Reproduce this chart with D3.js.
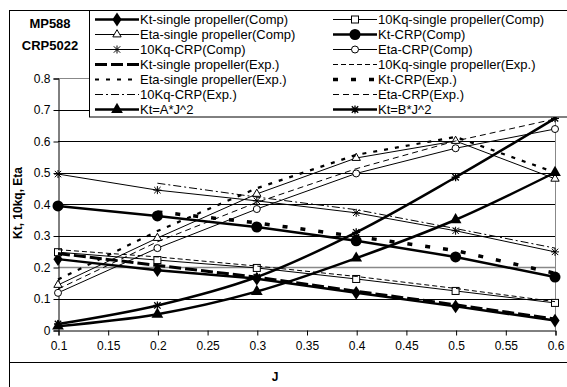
<!DOCTYPE html>
<html>
<head>
<meta charset="utf-8">
<script src="https://cdn.jsdelivr.net/npm/d3@7"></script>
<style>
  body { margin: 0; background: #fff; }
  svg { font-family: "Liberation Sans", Arial, sans-serif; }
</style>
</head>
<body>
<svg class="Chart"></svg>
<script>
/* values */
const J = [0.1, 0.2, 0.3, 0.4, 0.5, 0.6];
const J_crpExp = [0.2, 0.3, 0.4, 0.5, 0.6];

const ktSingleComp = [0.225, 0.19, 0.163, 0.118, 0.075, 0.03];
const kqSingleComp = [0.247, 0.222, 0.197, 0.162, 0.124, 0.086];
const etaSingleComp = [0.143, 0.292, 0.432, 0.546, 0.6, 0.48];
const ktCrpComp = [0.394, 0.362, 0.327, 0.283, 0.232, 0.168];
const kqCrpComp = [0.495, 0.444, 0.41, 0.372, 0.315, 0.248];
const etaCrpComp = [0.118, 0.26, 0.384, 0.497, 0.577, 0.638];
const ktSingleExp = [0.243, 0.205, 0.168, 0.123, 0.08, 0.035];
const kqSingleExp = [0.255, 0.232, 0.203, 0.17, 0.132, 0.09];
const etaSingleExp = [0.16, 0.314, 0.45, 0.556, 0.613, 0.5];
const ktCrpExp = [0.375, 0.34, 0.297, 0.252, 0.18];
const kqCrpExp = [0.466, 0.422, 0.382, 0.322, 0.26];
const etaCrpExp = [0.13, 0.28, 0.405, 0.512, 0.6, 0.67];
const ktA = [0.012, 0.05, 0.122, 0.228, 0.35, 0.5];
const ktB = [0.019, 0.078, 0.168, 0.31, 0.485, 0.672];

const xTicks = [0.1, 0.15, 0.2, 0.25, 0.3, 0.35, 0.4, 0.45, 0.5, 0.55, 0.6];
const yTicks = [0, 0.1, 0.2, 0.3, 0.4, 0.5, 0.6, 0.7, 0.8];

const series = [
  { name: "Kt-single propeller(Comp)", x: J, y: ktSingleComp, w: 2.5, marker: "diamond" },
  { name: "10Kq-single propeller(Comp)", x: J, y: kqSingleComp, w: 1, marker: "square" },
  { name: "Eta-single propeller(Comp)", x: J, y: etaSingleComp, w: 1, marker: "triangleOpen" },
  { name: "Kt-CRP(Comp)", x: J, y: ktCrpComp, w: 2.5, marker: "circleBig" },
  { name: "10Kq-CRP(Comp)", x: J, y: kqCrpComp, w: 1, marker: "star" },
  { name: "Eta-CRP(Comp)", x: J, y: etaCrpComp, w: 1, marker: "circleOpen" },
  { name: "Kt-single propeller(Exp.)", x: J, y: ktSingleExp, w: 3, dash: "12,4" },
  { name: "10Kq-single propeller(Exp.)", x: J, y: kqSingleExp, w: 1, dash: "5,3" },
  { name: "Eta-single propeller(Exp.)", x: J, y: etaSingleExp, w: 2.2, dash: "4,7" },
  { name: "Kt-CRP(Exp.)", x: J_crpExp, y: ktCrpExp, w: 3.5, dash: "5,13" },
  { name: "10Kq-CRP(Exp.)", x: J_crpExp, y: kqCrpExp, w: 1, dash: "8,3,2,3" },
  { name: "Eta-CRP(Exp.)", x: J, y: etaCrpExp, w: 1, dash: "6,4" },
  { name: "Kt=A*J^2", x: J, y: ktA, w: 2.5, marker: "triangle", smooth: true },
  { name: "Kt=B*J^2", x: J, y: ktB, w: 2.5, marker: "starBold", smooth: true }
];

const width = 567, height = 387;
const svg = d3.select(".Chart").attr("width", width).attr("height", height);

const x = d3.scaleLinear().domain([0.1, 0.6]).range([58, 555]);
const y = d3.scaleLinear().domain([0, 0.8]).range([330, 78]);

// chart frame
svg.append("line").attr("x1", 9).attr("x2", width).attr("y1", 10.5).attr("y2", 10.5).attr("stroke", "#000");
svg.append("line").attr("x1", 9.5).attr("x2", 9.5).attr("y1", 10).attr("y2", height).attr("stroke", "#000");
svg.append("line").attr("x1", 9).attr("x2", width).attr("y1", 362.5).attr("y2", 362.5).attr("stroke", "#000").attr("stroke-width", 1.2);

// gridlines
svg.append("g").selectAll("line")
  .data(yTicks.filter(d => d > 0))
  .enter().append("line")
    .attr("x1", x(0.1)).attr("x2", x(0.6))
    .attr("y1", d => Math.round(y(d)) + 0.5).attr("y2", d => Math.round(y(d)) + 0.5)
    .attr("stroke", d => (d === 0.8 || d === 0.2) ? "#888" : "#000")
    .attr("stroke-width", d => d === 0.2 ? 1.4 : 1);
svg.append("line").attr("x1", x(0.6) + 0.5).attr("x2", x(0.6) + 0.5)
  .attr("y1", y(0.8)).attr("y2", y(0)).attr("stroke", "#888");

// axes
const yAxis = svg.append("g").attr("transform", `translate(${x(0.1) + 0.5},0.5)`)
  .call(d3.axisLeft(y).tickValues(yTicks).tickSize(5).tickPadding(3).tickFormat(d3.format("")));
const xAxis = svg.append("g").attr("transform", `translate(0.5,${y(0) + 0.5})`)
  .call(d3.axisBottom(x).tickValues(xTicks).tickSize(5).tickPadding(6).tickFormat(d3.format("")));
[xAxis, yAxis].forEach(a => {
  a.selectAll("text").attr("font-size", 12).attr("fill", "#000")
    .attr("font-family", "'Liberation Sans', Arial, sans-serif");
  a.selectAll("line, path").attr("stroke", "#000");
});

// markers
function drawMarker(g, type, cx, cy) {
  const sym = (t, s) => d3.symbol().type(t).size(s)();
  switch (type) {
    case "diamond":
      g.append("path").attr("d", sym(d3.symbolDiamond, 55)).attr("transform", `translate(${cx},${cy}) scale(1.15,1)`).attr("fill", "#000");
      break;
    case "square":
      g.append("rect").attr("x", cx - 3.5).attr("y", cy - 3.5).attr("width", 7).attr("height", 7)
        .attr("fill", "#fff").attr("stroke", "#000").attr("stroke-width", 1);
      break;
    case "triangleOpen":
      g.append("path").attr("d", sym(d3.symbolTriangle, 30)).attr("transform", `translate(${cx},${cy})`)
        .attr("fill", "#fff").attr("stroke", "#000").attr("stroke-width", 1);
      break;
    case "triangle":
      g.append("path").attr("d", sym(d3.symbolTriangle, 60)).attr("transform", `translate(${cx},${cy})`).attr("fill", "#000");
      break;
    case "circleBig":
      g.append("circle").attr("cx", cx).attr("cy", cy).attr("r", 5.5).attr("fill", "#000");
      break;
    case "circleOpen":
      g.append("circle").attr("cx", cx).attr("cy", cy).attr("r", 3.5)
        .attr("fill", "#fff").attr("stroke", "#000").attr("stroke-width", 1);
      break;
    case "star":
    case "starBold": {
      const r = 4, sw = type === "starBold" ? 1.3 : 1;
      const p = `M${cx - r},${cy}H${cx + r}M${cx},${cy - r}V${cy + r}` +
        `M${cx - r * 0.8},${cy - r * 0.8}L${cx + r * 0.8},${cy + r * 0.8}` +
        `M${cx - r * 0.8},${cy + r * 0.8}L${cx + r * 0.8},${cy - r * 0.8}`;
      g.append("path").attr("d", p).attr("stroke", "#000").attr("stroke-width", sw).attr("fill", "none");
      break;
    }
  }
}

// series
const plot = svg.append("g");
series.forEach(s => {
  const pts = s.x.map((d, i) => [x(d), y(s.y[i])]);
  const line = d3.line().curve(s.smooth ? d3.curveCatmullRom : d3.curveLinear);
  plot.append("path")
    .attr("d", line(pts))
    .attr("fill", "none")
    .attr("stroke", "#000")
    .attr("stroke-width", s.w)
    .attr("stroke-dasharray", s.dash || null);
  if (s.marker) pts.forEach(p => drawMarker(plot, s.marker, p[0], p[1]));
});

// legend
const legend = svg.append("g");
legend.append("rect").attr("x", 89.5).attr("y", 10.5).attr("width", 520).attr("height", 106.5)
  .attr("fill", "#fff").attr("stroke", "#000");
series.forEach((s, i) => {
  const col = i % 2, row = Math.floor(i / 2);
  const x0 = col ? 333 : 95, x1 = col ? 377 : 139;
  const yy = 19.5 + row * 15;
  legend.append("line").attr("x1", x0).attr("x2", x1).attr("y1", yy).attr("y2", yy)
    .attr("stroke", "#000").attr("stroke-width", s.w).attr("stroke-dasharray", s.dash || null);
  if (s.marker) drawMarker(legend, s.marker, (x0 + x1) / 2, yy);
  legend.append("text").attr("x", x1 + 1).attr("y", yy + 4.5)
    .attr("font-size", 13).text(s.name);
});

// titles
svg.append("text").attr("x", 50).attr("y", 28).attr("text-anchor", "middle")
  .attr("font-size", 13).attr("font-weight", "bold").text("MP588");
svg.append("text").attr("x", 50).attr("y", 50).attr("text-anchor", "middle")
  .attr("font-size", 13).attr("font-weight", "bold").text("CRP5022");
svg.append("text").attr("transform", "translate(22,203) rotate(-90)").attr("text-anchor", "middle")
  .attr("font-size", 12).attr("font-weight", "bold").text("Kt, 10kq, Eta");
svg.append("text").attr("x", 275).attr("y", 381).attr("text-anchor", "middle")
  .attr("font-size", 12).attr("font-weight", "bold").text("J");
</script>
</body>
</html>
